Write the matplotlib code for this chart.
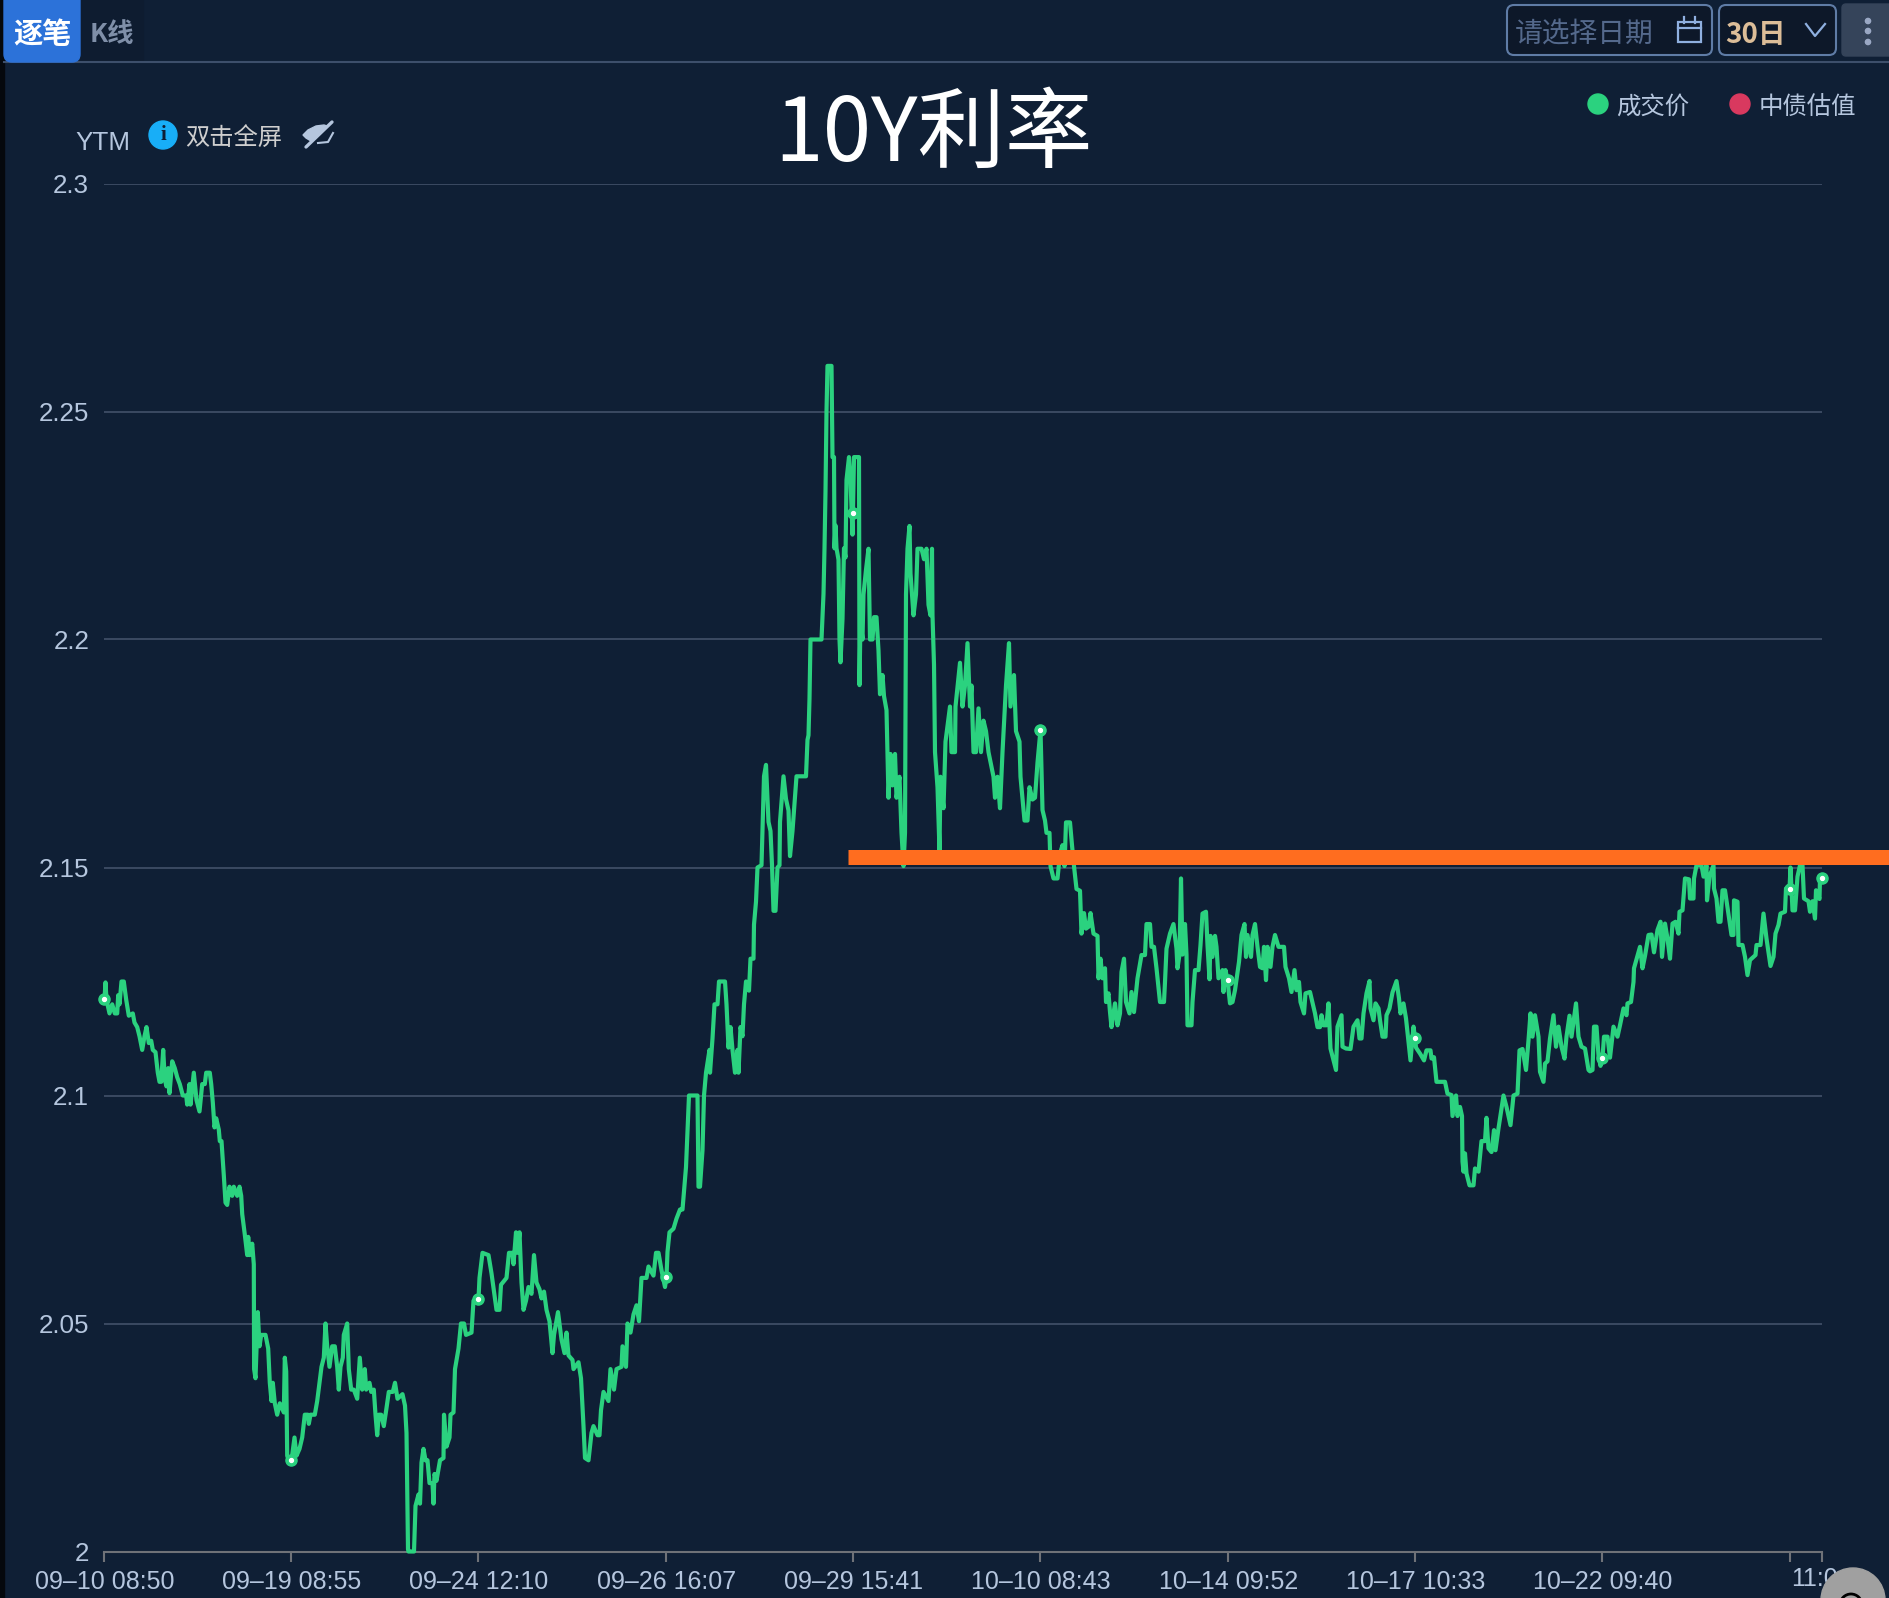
# 10Y rate chart, dark terminal look
from matplotlib import pyplot as plt
from matplotlib.patches import Circle, FancyBboxPatch, Rectangle, Polygon

plt.rcParams['font.family'] = ['Liberation Sans', 'Noto Sans CJK SC', 'DejaVu Sans']

bg_color = '#0f1f35'
line_color = '#2bd27f'
grid_color = '#3b4a62'
axis_color = '#6f7278'
text_color = '#b5c6de'
orange_color = '#ff6d1f'

# y axis
y_ticks = [2.0, 2.05, 2.1, 2.15, 2.2, 2.25, 2.3]
y_labels = ['2', '2.05', '2.1', '2.15', '2.2', '2.25', '2.3']

# x axis: position along the trade sequence
tick_pos = [0, 187, 374, 562, 749, 936, 1124, 1311, 1498, 1686, 1718]
tick_labels = ['09–10 08:50', '09–19 08:55', '09–24 12:10', '09–26 16:07', '09–29 15:41',
               '10–10 08:43', '10–14 09:52', '10–17 10:33', '10–22 09:40']
last_label = '11:0'

# the small ringed dots sit on each tick
marker_ytm = [2.1212, 2.02, 2.0553, 2.0603, 2.2277, 2.1802, 2.1253, 2.1127, 2.1083, 2.1452, 2.1477]

# orange level drawn over the chart
level_ytm = 2.1523
level_start = 744

pos_a = [0, 1, 2, 5, 7.7, 10.3, 12.7, 13.7, 15, 17, 19.3, 21.7, 24.3, 28.3, 30, 32.7, 35, 37.7, 40, 42,
         44.3, 46.7, 48.3, 51, 53.3, 55, 56.7, 58.7, 60.3, 62, 63.7, 65, 67.7, 70.3, 72.7, 75.3, 78.3, 81.7, 82.7, 85,
         86, 89.3, 92, 95, 97.7, 100.3, 101.7, 105.3, 106.7, 108.3, 110, 111.7, 114.3, 115.3, 117, 119.3, 121, 122.7, 125, 127.7,
         129.3, 132.7, 135, 136.7, 137.7, 140.3, 142.7, 143.7, 145.3, 147.7, 149.3, 149.6, 151, 153.3, 155, 156.7, 161, 163.7, 165.3, 167,
         168.3, 170.3, 172.7, 175.3, 179.3, 180.3, 181.7, 182.7, 184.3, 187, 190, 192, 195, 197.7, 200.3, 203.3, 204.3, 206, 210.3, 212.7,
         215, 217, 219.3, 221, 222.7, 225, 227.7, 230.3, 232.7, 234.3, 236, 238.3, 239.3, 242.7, 244.3, 246.7, 249.3, 252.7, 255.3, 257.7,
         260.3, 261.7, 265, 266.7, 269.3, 271, 272.7, 274.3, 276.7, 279.3, 281.7, 284.3, 288.3]
ytm_a = [2.1212, 2.1248, 2.121, 2.118, 2.12, 2.118, 2.118, 2.122, 2.12, 2.125, 2.125, 2.121, 2.1175, 2.118, 2.116, 2.115, 2.113, 2.11, 2.113, 2.115,
         2.1115, 2.112, 2.11, 2.1095, 2.105, 2.103, 2.103, 2.11, 2.1035, 2.102, 2.106, 2.1005, 2.1075, 2.106, 2.104, 2.1025, 2.1, 2.1, 2.098, 2.1025,
         2.098, 2.105, 2.099, 2.0965, 2.1025, 2.1025, 2.105, 2.105, 2.1025, 2.0985, 2.093, 2.095, 2.0925, 2.09, 2.09, 2.0825, 2.0765, 2.076, 2.08, 2.078,
         2.08, 2.078, 2.08, 2.078, 2.074, 2.0695, 2.065, 2.069, 2.065, 2.0675, 2.063, 2.04, 2.038, 2.0525, 2.045, 2.0475, 2.0475, 2.0445, 2.037, 2.033,
         2.037, 2.0325, 2.03, 2.0325, 2.0305, 2.0425, 2.0395, 2.021, 2.02, 2.02, 2.025, 2.021, 2.0225, 2.025, 2.03, 2.03, 2.028, 2.03, 2.03, 2.033,
         2.037, 2.0405, 2.0425, 2.05, 2.045, 2.0405, 2.045, 2.045, 2.0405, 2.0355, 2.0405, 2.0425, 2.0475, 2.05, 2.04, 2.0355, 2.0355, 2.0335, 2.0425, 2.0355,
         2.04, 2.0355, 2.037, 2.035, 2.0355, 2.03, 2.0255, 2.03, 2.03, 2.0275, 2.031, 2.035, 2.035]

pos_b = [290.5, 293, 298, 300.5, 302, 303, 303.5, 304, 309.5, 311, 314, 315.5, 317, 319, 321, 323, 325, 328, 329, 330,
         332, 335.5, 339, 339.5, 342, 345, 346, 349, 350.5, 354, 356.5, 359.5, 361.5, 367, 369, 374, 375, 378, 384, 387,
         390.5, 392, 395, 396.5, 402, 404.5, 408, 409, 411.5, 413, 415, 417, 419, 421.5, 424, 427, 429.5, 432, 435, 437,
         439.5, 442, 445, 448, 449.5, 453.5, 457, 460, 462, 464, 468, 469, 474, 476.5, 479, 480.5, 484, 487, 489, 493,
         495, 496.5, 499, 504, 506, 509.5, 512, 517, 518, 521.5, 523, 526, 529, 532, 534.5, 537, 542, 544, 549, 551.5,
         554, 557, 560.5, 562, 563, 565, 569, 572]
ytm_b = [2.037, 2.0335, 2.0345, 2.032, 2.026, 2.01, 2.0005, 2.0, 2.0, 2.01, 2.0125, 2.0105, 2.0195, 2.0225, 2.02, 2.02, 2.015, 2.015, 2.0105, 2.017,
         2.0155, 2.02, 2.0205, 2.03, 2.023, 2.025, 2.03, 2.0305, 2.04, 2.0445, 2.05, 2.05, 2.0475, 2.048, 2.055, 2.0553, 2.06, 2.0655, 2.065, 2.061,
         2.0555, 2.053, 2.053, 2.0585, 2.06, 2.0655, 2.0655, 2.063, 2.07, 2.0655, 2.07, 2.059, 2.053, 2.055, 2.058, 2.0565, 2.065, 2.059, 2.0575, 2.0555,
         2.057, 2.053, 2.0505, 2.0435, 2.0475, 2.0525, 2.0465, 2.0435, 2.048, 2.043, 2.042, 2.04, 2.0415, 2.038, 2.0275, 2.0205, 2.02, 2.026, 2.0275, 2.0255,
         2.0255, 2.031, 2.035, 2.033, 2.04, 2.0355, 2.04, 2.0405, 2.045, 2.0405, 2.05, 2.048, 2.052, 2.054, 2.0505, 2.06, 2.06, 2.0625, 2.0605, 2.0655,
         2.0655, 2.0617, 2.058, 2.0603, 2.0657, 2.07, 2.0708, 2.073]

pos_c = [575.5, 578, 580, 581.5, 583, 584.5, 590.5, 593, 594, 595.5, 598, 599.5, 601.5, 605, 605.5, 608, 610, 613, 614.5, 620.5,
         622, 624, 626, 628, 630.5, 633, 634, 636, 638, 639.5, 641.5, 644.5, 646, 649, 649.5, 651.5, 653, 657, 659.5, 661.5,
         664, 666, 667.5, 669, 671, 673, 675, 675.5, 679, 681.5, 684, 685.5, 688, 690.5, 692, 701.5, 703]
ytm_c = [2.075, 2.075, 2.0804, 2.0843, 2.092, 2.1, 2.1, 2.1, 2.08, 2.08, 2.088, 2.1, 2.105, 2.11, 2.105, 2.1125, 2.12, 2.12, 2.125, 2.125,
         2.12, 2.1105, 2.115, 2.11, 2.105, 2.11, 2.105, 2.115, 2.113, 2.12, 2.125, 2.123, 2.13, 2.13, 2.1375, 2.1425, 2.15, 2.1505, 2.17, 2.1725,
         2.16, 2.158, 2.1505, 2.1405, 2.1405, 2.15, 2.1505, 2.16, 2.17, 2.165, 2.1625, 2.1525, 2.158, 2.1655, 2.17, 2.17, 2.178]

pos_d = [704, 705, 706, 717, 719, 720, 721, 722, 723, 727, 728, 729.5, 730, 731, 732, 734, 735, 736, 738, 739.5,
         741, 742, 744.5, 746, 748, 749.5, 754.5, 755, 756, 758, 759, 761.5, 764, 765.5, 768, 769.5, 772, 774, 775.5, 778,
         779.5, 782, 784, 786, 788, 790.5, 792, 795, 797, 799, 800.5, 801.5, 803, 805, 806, 809, 811.5, 813, 817, 819.5,
         822, 824, 826, 827.5, 828, 829.5, 830.5, 833, 835, 836, 839, 841, 845.5, 847, 850.5, 851, 855.5, 858, 860.5, 863,
         865.5, 867, 869, 871.5, 874, 876.5, 879, 881.5, 884, 889, 890.5, 893, 895.5, 898, 901.5, 904.5, 906, 909.5, 911.5, 915,
         916, 920, 923, 925, 928, 930.5, 933, 936, 938, 940.5, 942, 945, 946, 949, 953, 955.5, 958, 960, 961.5, 965.5,
         967.5, 969.5, 972, 975.5]
ytm_d = [2.179, 2.187, 2.2, 2.2, 2.21, 2.22, 2.2325, 2.25, 2.26, 2.26, 2.24, 2.24, 2.22, 2.225, 2.22, 2.2175, 2.2, 2.195, 2.2045, 2.22,
         2.218, 2.235, 2.24, 2.235, 2.223, 2.24, 2.24, 2.19, 2.2045, 2.2, 2.2099, 2.2153, 2.2199, 2.2, 2.2, 2.2049, 2.2049, 2.1976, 2.188, 2.1922,
         2.1876, 2.1845, 2.1653, 2.1749, 2.168, 2.1749, 2.1653, 2.1699, 2.1576, 2.1503, 2.1576, 2.2099, 2.2199, 2.2249, 2.2145, 2.2053, 2.2099, 2.2199, 2.2199, 2.2176,
         2.2199, 2.2076, 2.2053, 2.2199, 2.2053, 2.1945, 2.1753, 2.1676, 2.1538, 2.1699, 2.163, 2.1776, 2.1853, 2.1753, 2.1753, 2.1853, 2.1949, 2.1853, 2.1899, 2.1992,
         2.1853, 2.1899, 2.1753, 2.1753, 2.1849, 2.1753, 2.1822, 2.1799, 2.1753, 2.1699, 2.1653, 2.1699, 2.163, 2.1753, 2.1899, 2.1992, 2.1853, 2.1922, 2.1799, 2.1776,
         2.1699, 2.1603, 2.1603, 2.1676, 2.1649, 2.1653, 2.173, 2.1802, 2.1626, 2.1603, 2.1576, 2.1576, 2.1503, 2.1476, 2.1476, 2.153, 2.1549, 2.1503, 2.1599, 2.1599,
         2.1549, 2.1503, 2.1453, 2.1449]

pos_e = [977, 979.5, 981.5, 984, 986, 989, 993, 994, 996, 998, 1000.5, 1001.5, 1004, 1005.5, 1007, 1010.5, 1013, 1015.5, 1017, 1019.5,
         1021.5, 1025, 1027, 1029.5, 1033, 1037, 1040.5, 1042, 1045.5, 1047, 1049.5, 1052, 1055.5, 1059.5, 1060.5, 1062, 1065.5, 1069, 1072, 1073,
         1075, 1076.5, 1078, 1080.5, 1082, 1083, 1087, 1088, 1090.5, 1094, 1096, 1098, 1101.5, 1103, 1105, 1106, 1108, 1110.5, 1112, 1114,
         1118, 1119, 1121, 1123, 1125.5, 1128, 1130.5, 1134.5, 1137, 1140, 1141.5, 1143, 1146.5, 1148, 1150.5, 1153, 1155.5, 1158, 1159.5, 1161.5,
         1163, 1166, 1168, 1170.5, 1174, 1179.5, 1181, 1184.5, 1187, 1190, 1192, 1194.5, 1196, 1199.5, 1201, 1205.5, 1208, 1210.5, 1213, 1215.5,
         1217, 1219, 1222, 1224, 1226]
ytm_e = [2.1355, 2.14, 2.1366, 2.137, 2.14, 2.1355, 2.135, 2.1257, 2.13, 2.1257, 2.1279, 2.1205, 2.1224, 2.1183, 2.115, 2.1202, 2.1154, 2.118, 2.1271, 2.13,
         2.1205, 2.118, 2.1227, 2.1183, 2.1257, 2.1308, 2.1308, 2.1376, 2.1376, 2.1326, 2.1326, 2.1279, 2.1205, 2.1205, 2.1249, 2.1322, 2.1355, 2.1376, 2.1322, 2.1279,
         2.1309, 2.1476, 2.1309, 2.1376, 2.1309, 2.1154, 2.1154, 2.1205, 2.1275, 2.1275, 2.133, 2.1399, 2.1403, 2.133, 2.1255, 2.135, 2.1304, 2.135, 2.1326, 2.1257,
         2.1275, 2.1227, 2.1275, 2.1253, 2.1202, 2.1205, 2.1231, 2.1293, 2.1352, 2.1376, 2.1304, 2.1352, 2.1304, 2.1352, 2.1376, 2.1326, 2.1282, 2.1279, 2.1326, 2.1253,
         2.1326, 2.1282, 2.1326, 2.1352, 2.1326, 2.1326, 2.1282, 2.1257, 2.1227, 2.1275, 2.1231, 2.1249, 2.1205, 2.118, 2.1224, 2.1227, 2.1204, 2.118, 2.115, 2.115,
         2.1176, 2.1154, 2.1154, 2.1202, 2.1103]

pos_f = [1231.5, 1233, 1237, 1238, 1241.5, 1246, 1249, 1253, 1255, 1257, 1259, 1262, 1265, 1266, 1269, 1271, 1274, 1275.5, 1278, 1281,
         1282, 1285, 1288, 1292, 1294.5, 1296, 1299, 1301.5, 1304, 1306, 1309, 1310.5, 1311.5, 1315.5, 1319.5, 1322, 1326, 1327, 1329.5, 1332,
         1335.5, 1340.5, 1343, 1347, 1348, 1351.5, 1353, 1355.5, 1357.5, 1358, 1359, 1360.5, 1362, 1365, 1369, 1370.5, 1374, 1377, 1380.5, 1382,
         1384, 1387, 1389.5, 1391, 1394, 1395.5, 1399, 1402, 1406, 1409, 1413, 1415, 1418, 1421.5, 1424, 1426, 1428, 1430.5, 1434, 1435.5,
         1439, 1440.5, 1443, 1445.5, 1449, 1451.5, 1454, 1457, 1460, 1462, 1465, 1467, 1471.5, 1474, 1477, 1480.5, 1484]
ytm_f = [2.1056, 2.1151, 2.1176, 2.1107, 2.1103, 2.1102, 2.1151, 2.1165, 2.1125, 2.1125, 2.118, 2.1224, 2.1251, 2.1191, 2.1165, 2.1202, 2.1191, 2.1165, 2.1129, 2.1129,
         2.1176, 2.1191, 2.1226, 2.1251, 2.1213, 2.118, 2.1202, 2.1169, 2.1118, 2.1077, 2.1151, 2.1127, 2.1105, 2.1092, 2.1077, 2.1099, 2.1099, 2.1081, 2.1084, 2.103,
         2.103, 2.103, 2.1004, 2.1001, 2.0955, 2.1, 2.0955, 2.0975, 2.0955, 2.0855, 2.0833, 2.0873, 2.0829, 2.0803, 2.0803, 2.084, 2.0833, 2.09, 2.09, 2.0951,
         2.0884, 2.0876, 2.0924, 2.088, 2.0928, 2.095, 2.1, 2.0975, 2.0935, 2.1, 2.1004, 2.1099, 2.1102, 2.1056, 2.1121, 2.118, 2.1129, 2.1176, 2.1129, 2.1052,
         2.103, 2.107, 2.1075, 2.1125, 2.1176, 2.1107, 2.1151, 2.1107, 2.1081, 2.1129, 2.1175, 2.1129, 2.1202, 2.1129, 2.1107, 2.1103, 2.1056]

pos_g = [1485.5, 1488, 1489.5, 1492, 1494, 1496, 1498, 1499.5, 1503, 1505.5, 1509, 1513, 1515.5, 1519, 1522, 1523, 1526.5, 1529, 1529.5, 1535.5,
         1538, 1540.5, 1544, 1547, 1549.5, 1553, 1556, 1557.5, 1560.5, 1563, 1565.5, 1568, 1571, 1574, 1575, 1578, 1580.5, 1584.5, 1585.5, 1589,
         1589.5, 1592, 1597, 1599, 1602, 1602.5, 1605, 1609, 1609.5, 1612, 1614, 1616, 1618, 1620.5, 1625, 1627, 1629, 1629.5, 1633, 1634,
         1638, 1640.5, 1643, 1645.5, 1651, 1652, 1656, 1659, 1662, 1666, 1669, 1671, 1674, 1676, 1680.5, 1681.5, 1684, 1685, 1686, 1688,
         1690.5, 1693, 1695.5, 1698, 1699.5, 1704, 1705.5, 1708, 1710.5, 1711.5, 1715, 1715.5, 1718]
ytm_g = [2.1053, 2.1056, 2.1151, 2.1151, 2.1088, 2.1065, 2.1083, 2.1129, 2.1129, 2.1083, 2.1151, 2.1129, 2.1154, 2.1191, 2.1176, 2.1202, 2.1205, 2.1249, 2.1279, 2.1326,
         2.1279, 2.1306, 2.1352, 2.1353, 2.1314, 2.1363, 2.1381, 2.1304, 2.1377, 2.1344, 2.13, 2.1377, 2.1381, 2.1355, 2.1403, 2.1406, 2.1476, 2.1474, 2.1432, 2.1432,
         2.1476, 2.1505, 2.1505, 2.148, 2.1505, 2.1428, 2.148, 2.1505, 2.1454, 2.1432, 2.1381, 2.1381, 2.145, 2.145, 2.1381, 2.1352, 2.1352, 2.1428, 2.1425, 2.133,
         2.133, 2.1304, 2.1264, 2.1297, 2.1308, 2.133, 2.133, 2.1399, 2.1344, 2.1284, 2.1304, 2.1355, 2.1374, 2.1399, 2.1403, 2.1454, 2.1458, 2.1452, 2.15, 2.1406,
         2.1406, 2.148, 2.1505, 2.1505, 2.1432, 2.1426, 2.1403, 2.1426, 2.1388, 2.145, 2.1431, 2.1476, 2.1477]

trade_pos = pos_a + pos_b + pos_c + pos_d + pos_e + pos_f + pos_g
trade_ytm = ytm_a + ytm_b + ytm_c + ytm_d + ytm_e + ytm_f + ytm_g

W, H = 1890, 1598
fig = plt.figure(figsize=(W / 100, H / 100), dpi=100, facecolor=bg_color)

# main chart axes, placed to the pixel
ax = fig.add_axes([104.5 / W, 1 - 1551.5 / H, 1718 / W, 1368 / H], facecolor='none')
ax.set_xlim(0, 1718)
ax.set_ylim(2.0, 2.3)
for side in ['top', 'right', 'left']:
    ax.spines[side].set_visible(False)
ax.spines['bottom'].set_color(axis_color)
ax.spines['bottom'].set_linewidth(1.5)

ax.set_yticks(y_ticks)
ax.set_yticklabels(y_labels, fontsize=18.7, color=text_color)
ax.tick_params(axis='y', length=0, pad=11)
ax.set_xticks(tick_pos)
ax.set_xticklabels(tick_labels + ['', ''], fontsize=18, color=text_color)
ax.tick_params(axis='x', length=7, width=1.5, color=axis_color, pad=6)
ax.grid(axis='y', color=grid_color, linewidth=1.4)
ax.set_axisbelow(True)

ax.plot(trade_pos, trade_ytm, color=line_color, linewidth=3.0, solid_joinstyle='round', clip_on=False, zorder=3)
ax.plot(tick_pos, marker_ytm, linestyle='none', marker='o', markersize=8, color=line_color, clip_on=False, zorder=4)
ax.plot(tick_pos, marker_ytm, linestyle='none', marker='o', markersize=2.8, color='white', clip_on=False, zorder=5)

# the orange level runs off the right edge of the picture
ax.plot([level_start, 1800], [level_ytm, level_ytm], color=orange_color, linewidth=10.8,
        solid_capstyle='butt', clip_on=False, zorder=6)

# overlay in picture pixels for the app chrome
ui = fig.add_axes([0, 0, 1, 1], facecolor='none')
ui.set_xlim(0, W)
ui.set_ylim(H, 0)
ui.axis('off')

cjk = ['Noto Sans CJK SC', 'DejaVu Sans']

ui.add_patch(Rectangle((0, 0), 4, H, color='#05080d', zorder=1))
ui.plot([4, W], [62, 62], color='#3d4f6b', linewidth=1.5)

# tabs
ui.add_patch(Rectangle((80, 0), 63, 61, color='#0e1c30', zorder=1))
ui.add_patch(FancyBboxPatch((4, -10), 76, 72, boxstyle='round,pad=0,rounding_size=8', color='#2c72d9', zorder=2))
ui.text(42, 34, '逐笔', fontsize=21, color='white', family=cjk, weight='bold', ha='center', va='center', zorder=3)
ui.text(112, 34, 'K线', fontsize=19, color='#7f8fa8', family=cjk, weight='bold', ha='center', va='center', zorder=3)

# date picker and range box
ui.add_patch(FancyBboxPatch((1507, 5), 205, 50, boxstyle='round,pad=0,rounding_size=7',
                            facecolor='#0d1829', edgecolor='#5f7ca6', linewidth=1.5))
ui.text(1515, 35, '请选择日期', fontsize=20, color='#54698c', family=cjk, va='center')
ui.add_patch(Rectangle((1678, 22), 23, 20, facecolor='none', edgecolor='#8fb0e0', linewidth=1.6))
ui.plot([1678, 1701], [28, 28], color='#8fb0e0', linewidth=1.6)
ui.plot([1684, 1684], [17, 23], color='#8fb0e0', linewidth=1.6)
ui.plot([1695, 1695], [17, 23], color='#8fb0e0', linewidth=1.6)

ui.add_patch(FancyBboxPatch((1719, 5), 117, 50, boxstyle='round,pad=0,rounding_size=7',
                            facecolor='#0d1829', edgecolor='#5f7ca6', linewidth=1.5))
ui.text(1725, 35, '30日', fontsize=20, color='#dcbd98', family=cjk, weight='bold', va='center')
ui.plot([1806, 1815, 1825], [24, 36, 24], color='#8fb0e0', linewidth=1.6)

ui.add_patch(FancyBboxPatch((1842, 4), 60, 52, boxstyle='round,pad=0,rounding_size=4', color='#35445a'))
for dot_y in [21, 31, 42]:
    ui.add_patch(Circle((1868, dot_y), 2.6, color='#9aa8c4'))

# legend
ui.add_patch(Circle((1598, 104), 10, color=line_color))
ui.text(1616, 107, '成交价', fontsize=17.6, color=text_color, family=cjk, va='center')
ui.add_patch(Circle((1740, 104), 10, color='#d9395f'))
ui.text(1759, 107, '中债估值', fontsize=17.6, color=text_color, family=cjk, va='center')

# title
ui.text(934, 136, '10Y利率', fontsize=63, color='white', family=cjk, ha='center', va='center')

# y axis name and the hint
ui.text(103, 143, 'YTM', fontsize=18.7, color=text_color, ha='center', va='center')
ui.add_patch(Circle((163, 135), 14, color='#18aef7'))
ui.text(163, 135, 'i', fontsize=15, color='#0f1f35', family='Liberation Serif', weight='bold', ha='center', va='center')
ui.text(185, 138, '双击全屏', fontsize=17.5, color='#cfcfcf', family=cjk, va='center')

# slashed eye
ui.add_patch(Polygon([(303, 135), (308, 130), (316, 126), (324, 125), (327, 126), (311, 141), (306, 138)], color='#b5c6de'))
ui.plot([306, 332], [147, 122], color='#b5c6de', linewidth=2.4, solid_capstyle='round')
ui.plot([318, 328, 333], [143, 142, 133], color='#b5c6de', linewidth=1.5)

# last label is partly hidden by the floating button
ui.text(1791, 1579, last_label, fontsize=18, color=text_color, va='center', zorder=2)
ui.add_patch(Circle((1853, 1600), 32, color='#a0a0a0', zorder=3))
ui.add_patch(Circle((1851, 1605), 11, facecolor='none', edgecolor='black', linewidth=2, zorder=4))

fig.savefig('out.png', dpi=100, facecolor=bg_color)
